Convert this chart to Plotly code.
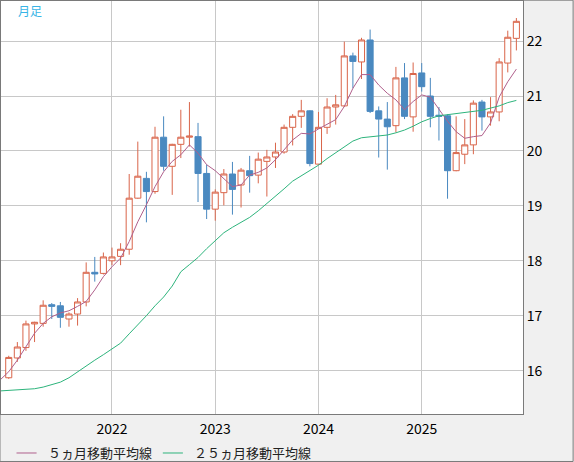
import pandas as pd
import plotly.graph_objects as go

# monthly candles, Jan 2021 .. Dec 2025
months = [d.strftime("%Y-%m") for d in pd.date_range("2021-01-01", periods=60, freq="MS")]

opens = [15.87, 16.23, 16.42, 16.85, 16.86, 17.20, 17.18, 16.94, 17.03, 17.25, 17.79, 17.77,
         18.00, 18.08, 18.21, 19.14, 19.50, 19.26, 20.25, 19.72, 20.12, 20.25, 20.26, 19.59,
         18.94, 19.24, 19.58, 19.38, 19.64, 19.56, 19.81, 19.89, 19.98, 20.43, 20.63, 20.73,
         19.76, 20.43, 20.80, 20.82, 21.73, 21.62, 22.02, 20.73, 20.58, 20.46, 21.33, 20.62,
         21.42, 21.00, 20.65, 20.64, 19.64, 19.94, 20.11, 20.89, 20.62, 20.71, 21.60, 22.05]
highs = [16.27, 16.52, 16.91, 16.89, 17.28, 17.23, 17.25, 17.06, 17.32, 17.97, 18.07, 18.15,
         18.24, 18.32, 19.58, 20.17, 19.62, 20.44, 20.63, 20.13, 20.75, 20.89, 20.51, 19.75,
         19.30, 19.67, 19.80, 19.69, 19.91, 19.97, 20.02, 20.15, 20.48, 20.67, 20.93, 20.74,
         20.71, 20.96, 21.02, 21.99, 21.79, 22.06, 22.21, 20.81, 20.89, 21.53, 21.60, 21.61,
         21.60, 21.33, 20.80, 20.67, 20.63, 20.58, 20.92, 20.93, 20.98, 21.69, 22.19, 22.42]
lows = [15.85, 16.16, 16.36, 16.52, 16.80, 16.94, 16.78, 16.80, 16.82, 17.17, 17.62, 17.75,
        17.92, 17.92, 18.11, 19.13, 18.70, 19.22, 19.64, 19.20, 19.87, 20.08, 19.07, 18.76,
        18.73, 19.01, 18.84, 18.97, 19.24, 19.41, 19.17, 19.69, 19.95, 20.10, 20.42, 19.72,
        19.75, 20.31, 20.48, 20.80, 21.14, 21.31, 20.69, 19.88, 19.66, 20.34, 20.58, 20.35,
        21.08, 20.43, 20.19, 19.13, 19.63, 19.76, 19.94, 20.37, 20.46, 20.54, 21.43, 21.83]
closes = [16.24, 16.43, 16.85, 16.88, 17.19, 17.17, 16.97, 17.03, 17.25, 17.79, 17.76, 18.07,
          18.07, 18.21, 19.14, 19.54, 19.26, 20.25, 19.72, 20.12, 20.25, 20.27, 19.59, 18.94,
          19.25, 19.58, 19.30, 19.65, 19.55, 19.85, 19.89, 19.98, 20.43, 20.63, 20.73, 19.77,
          20.43, 20.80, 20.84, 21.73, 21.63, 22.02, 20.72, 20.58, 20.44, 21.33, 20.63, 21.41,
          21.17, 20.63, 20.63, 19.64, 19.97, 20.11, 20.87, 20.62, 20.71, 21.62, 22.07, 22.36]

# moving averages start one month earlier (Dec 2020)
ma_months = ["2020-12"] + months
ma5 = [15.83, 15.98, 16.19, 16.44, 16.68, 16.86, 16.98, 17.05, 17.09, 17.17, 17.26, 17.47, 17.71,
       17.89, 18.05, 18.35, 18.71, 19.02, 19.35, 19.62, 19.81, 19.93, 20.11, 19.96, 19.75,
       19.64, 19.50, 19.35, 19.38, 19.56, 19.61, 19.69, 19.84, 20.02, 20.20, 20.32, 20.31,
       20.40, 20.48, 20.57, 20.81, 21.14, 21.39, 21.39, 21.20, 21.05, 20.93, 20.75, 20.90,
       21.02, 20.98, 20.75, 20.54, 20.35, 20.23, 20.26, 20.28, 20.51, 20.98, 21.26, 21.49]
ma25 = [15.63, 15.64, 15.65, 15.66, 15.67, 15.70, 15.75, 15.79, 15.87, 15.98, 16.09, 16.19, 16.29,
        16.40, 16.50, 16.67, 16.83, 17.00, 17.18, 17.34, 17.54, 17.80, 17.93, 18.06, 18.22,
        18.36, 18.51, 18.61, 18.70, 18.79, 18.91, 19.04, 19.18, 19.31, 19.45, 19.55, 19.64,
        19.74, 19.86, 19.97, 20.07, 20.18, 20.24, 20.26, 20.28, 20.29, 20.33, 20.38, 20.45,
        20.53, 20.59, 20.64, 20.66, 20.68, 20.69, 20.71, 20.74, 20.78, 20.82, 20.88, 20.92]

year_ticks = ["2022-01", "2023-01", "2024-01", "2025-01"]
year_labels = ["2022", "2023", "2024", "2025"]
ma_names = ["５ヵ月移動平均線", "２５ヵ月移動平均線"]
ma_colors = ["#b0608c", "#2db47c"]

RED = "#d9654a"
BLUE = "#4a89c0"
FONT = "Noto Sans CJK JP"

fig = go.Figure()
fig.add_trace(go.Candlestick(x=months, open=opens, high=highs, low=lows, close=closes,
                             increasing=dict(line=dict(color=RED, width=1), fillcolor="white"),
                             decreasing=dict(line=dict(color=BLUE, width=1), fillcolor=BLUE),
                             whiskerwidth=0, showlegend=False, hoverinfo="skip"))
for name, vals, col in zip(ma_names, [ma5, ma25], ma_colors):
    fig.add_trace(go.Scatter(x=ma_months, y=vals, mode="lines", name=name,
                             line=dict(color=col, width=1), showlegend=False,
                             hoverinfo="skip"))

# legend drawn by hand below the plot
shapes = [dict(type="rect", xref="paper", yref="paper",
               x0=-0.002, x1=1.096, y0=-0.115, y1=1.002,
               line=dict(color="#7a7a7a", width=1))]
annots = [dict(text="月足", xref="paper", yref="paper", x=0.029, y=0.976,
               xanchor="left", yanchor="middle", showarrow=False,
               font=dict(family=FONT, size=12, color="#38b4e6"))]
for x0, name, col in zip([0.0297, 0.310], ma_names, ma_colors):
    shapes.append(dict(type="line", xref="paper", yref="paper", x0=x0, x1=x0 + 0.0385,
                       y0=-0.0944, y1=-0.0944, line=dict(color=col, width=1)))
    annots.append(dict(text=name, xref="paper", yref="paper", x=x0 + 0.056, y=-0.0944,
                       xanchor="left", yanchor="middle", showarrow=False,
                       font=dict(family=FONT, size=13, color="#222222")))

fig.update_layout(
    width=574, height=462,
    margin=dict(l=1, r=51, t=1, b=48),
    paper_bgcolor="#f0f0f0", plot_bgcolor="white",
    font=dict(family=FONT, size=14, color="black"),
    boxgap=0.28, boxgroupgap=0.02,
    xaxis=dict(type="category", categoryorder="array", categoryarray=ma_months,
               range=[0.1, 60.77],
               tickvals=year_ticks, ticktext=year_labels, ticklabelstandoff=2,
               showgrid=True, gridcolor="#c8c8c8", gridwidth=1,
               showline=True, linecolor="#7a7a7a", linewidth=1, mirror=True,
               rangeslider=dict(visible=False), zeroline=False, ticks=""),
    yaxis=dict(side="right", range=[15.21, 22.73], dtick=1, tick0=0,
               showgrid=True, gridcolor="#c8c8c8", gridwidth=1,
               showline=True, linecolor="#7a7a7a", linewidth=1, mirror=True,
               zeroline=False, ticks="", ticklabelstandoff=0),
    showlegend=False,
    annotations=annots,
    shapes=shapes,
)

# page body margin off so the figure sits at the window corner
fig.write_html("out.html", config={"displayModeBar": False},
               post_script="document.body.style.margin='0';")
